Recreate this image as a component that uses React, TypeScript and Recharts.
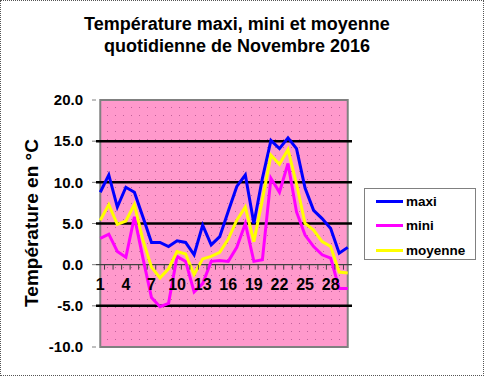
import React from "react";
import {
  LineChart,
  Line,
  XAxis,
  YAxis,
  ReferenceLine,
  ReferenceArea,
  Legend,
} from "recharts";

const days = [
  "1", "2", "3", "4", "5", "6", "7", "8", "9", "10",
  "11", "12", "13", "14", "15", "16", "17", "18", "19", "20",
  "21", "22", "23", "24", "25", "26", "27", "28", "29", "30",
];
const maxi = [
  8.8, 10.9, 7.0, 9.4, 8.8, 5.8, 2.7, 2.7, 2.2, 2.9,
  2.7, 1.2, 4.8, 2.4, 3.4, 6.5, 9.5, 10.9, 5.0, 10.5,
  15.1, 14.1, 15.4, 14.1, 9.3, 6.6, 5.6, 4.4, 1.4, 2.1,
];
const mini = [
  3.2, 3.7, 1.6, 0.9, 5.8, 0.8, -4.0, -5.1, -4.7, 1.0,
  0.4, -3.3, -2.3, 0.4, 0.5, 0.4, 2.1, 5.0, 0.4, 0.6,
  10.5, 8.8, 12.3, 6.4, 3.6, 2.2, 1.2, 0.8, -2.9, -2.9,
];
const moyenne = [
  5.4, 7.3, 4.9, 5.3, 7.3, 3.0, -0.3, -1.6, -0.5, 1.6,
  1.3, -1.2, 0.7, 1.0, 1.5, 3.1, 5.4, 7.0, 2.8, 7.9,
  13.3, 12.2, 14.0, 9.8, 5.0, 4.2, 2.8, 2.2, -0.9, -1.0,
];
const yTicks = [-10, -5, 0, 5, 10, 15, 20];
const gridValues = [15, 10, 5, -5];
const xTickLabels = ["1", "4", "7", "10", "13", "16", "19", "22", "25", "28"];

const data = days.map((d, i) => ({
  day: d,
  maxi: maxi[i],
  mini: mini[i],
  moyenne: moyenne[i],
}));

const W = 484;
const H = 376;
const PLOT_TOP = 100;
const PLOT_BOTTOM = 347;
const PLOT_LEFT = 96;
const PLOT_RIGHT = 352;
const Y_MIN = -10;
const Y_MAX = 20;
const zeroY = PLOT_TOP + ((PLOT_BOTTOM - PLOT_TOP) * Y_MAX) / (Y_MAX - Y_MIN);
const band = (PLOT_RIGHT - PLOT_LEFT) / days.length;
const font = '"Liberation Sans", Arial, sans-serif';

// x axis sits on the 0 line, Excel style: ticks between days, a label every 3 days
const XTick = (props: any) => {
  const { x, payload, index } = props;
  const label = String(payload.value);
  const last = index === days.length - 1;
  return (
    <g>
      {!last && (
        <line
          x1={x + band / 2}
          x2={x + band / 2}
          y1={zeroY}
          y2={zeroY + 5}
          stroke="#404040"
          strokeWidth={1}
        />
      )}
      {xTickLabels.includes(label) && (
        <text
          x={x}
          y={zeroY + 25}
          textAnchor="middle"
          fontSize={16}
          fontWeight="bold"
          fontFamily={font}
          fill="#000"
        >
          {label}
        </text>
      )}
    </g>
  );
};

const LegendBox = (props: any) => {
  const { payload } = props;
  return (
    <div
      style={{
        width: 112,
        height: 72,
        boxSizing: "border-box",
        border: "1.5px solid #808080",
        background: "#fff",
        paddingTop: 0,
      }}
    >
      {(payload || []).map((e: any) => (
        <div
          key={e.value}
          style={{ display: "flex", alignItems: "center", height: 24.5 }}
        >
          <span
            style={{
              display: "inline-block",
              marginLeft: 11,
              width: 27,
              height: 3,
              background: e.color,
            }}
          />
          <span
            style={{
              marginLeft: 3,
              fontSize: 13.5,
              fontWeight: "bold",
              fontFamily: font,
              color: "#000",
            }}
          >
            {e.value}
          </span>
        </div>
      ))}
    </div>
  );
};

export default function App() {
  return (
    <div
      style={{
        position: "absolute",
        left: 0,
        top: 0,
        width: W,
        height: H,
        background: "#fff",
        fontFamily: font,
      }}
    >
      <svg width={0} height={0} style={{ position: "absolute" }}>
        <defs>
          <pattern id="plotDots" width="8" height="8" patternUnits="userSpaceOnUse">
            <rect width="8" height="8" fill="#FF99CC" />
            <rect x="3" y="3" width="1" height="1" fill="#C0609A" />
          </pattern>
        </defs>
      </svg>

      <LineChart
        width={W}
        height={H}
        data={data}
        margin={{ top: PLOT_TOP, right: W - PLOT_RIGHT, bottom: H - PLOT_BOTTOM - 1, left: 0 }}
      >
        <ReferenceArea
          y1={Y_MIN}
          y2={Y_MAX}
          fill="url(#plotDots)"
          fillOpacity={1}
          stroke="#808080"
          strokeWidth={2}
        />
        {gridValues.map((v) => (
          <ReferenceLine key={v} y={v} stroke="#000" strokeWidth={2.5} />
        ))}
        <ReferenceLine y={0} stroke="#404040" strokeWidth={1.2} />
        <XAxis
          dataKey="day"
          interval={0}
          height={1}
          padding={{ left: band / 2, right: band / 2 }}
          axisLine={false}
          tickLine={false}
          tick={XTick}
        />
        <YAxis
          type="number"
          domain={[Y_MIN, Y_MAX]}
          ticks={yTicks}
          interval={0}
          width={PLOT_LEFT}
          axisLine={false}
          tickSize={4}
          tickMargin={9}
          tickLine={{ stroke: "#808080" }}
          tickFormatter={(v: number) => v.toFixed(1)}
          tick={{ fill: "#000", fontSize: 15, fontWeight: "bold", fontFamily: font }}
        />
        <Legend
          layout="vertical"
          align="center"
          verticalAlign="middle"
          content={LegendBox}
          wrapperStyle={{ left: 364, top: 188, width: 112, height: 72 }}
        />
        <Line
          type="linear"
          dataKey="maxi"
          name="maxi"
          stroke="#0000FF"
          strokeWidth={3}
          dot={false}
          isAnimationActive={false}
        />
        <Line
          type="linear"
          dataKey="mini"
          name="mini"
          stroke="#FF00FF"
          strokeWidth={3}
          dot={false}
          isAnimationActive={false}
        />
        <Line
          type="linear"
          dataKey="moyenne"
          name="moyenne"
          stroke="#FFFF00"
          strokeWidth={3}
          dot={false}
          isAnimationActive={false}
        />
      </LineChart>

      <div
        style={{
          position: "absolute",
          left: 0,
          top: 13,
          width: 474,
          textAlign: "center",
          fontSize: 18,
          lineHeight: "22px",
          fontWeight: "bold",
          color: "#000",
        }}
      >
        Température maxi, mini et moyenne
        <br />
        quotidienne de Novembre 2016
      </div>

      <div
        style={{
          position: "absolute",
          left: 31.5 - 150,
          top: 223 - 12,
          width: 300,
          height: 24,
          lineHeight: "24px",
          textAlign: "center",
          fontSize: 19,
          fontWeight: "bold",
          color: "#000",
          transform: "rotate(-90deg)",
          whiteSpace: "nowrap",
        }}
      >
        Température en °C
      </div>

      <div
        style={{
          position: "absolute",
          left: 0,
          top: 0,
          width: W,
          height: H,
          boxSizing: "border-box",
          border: "1px dotted #555",
          pointerEvents: "none",
        }}
      />
    </div>
  );
}
